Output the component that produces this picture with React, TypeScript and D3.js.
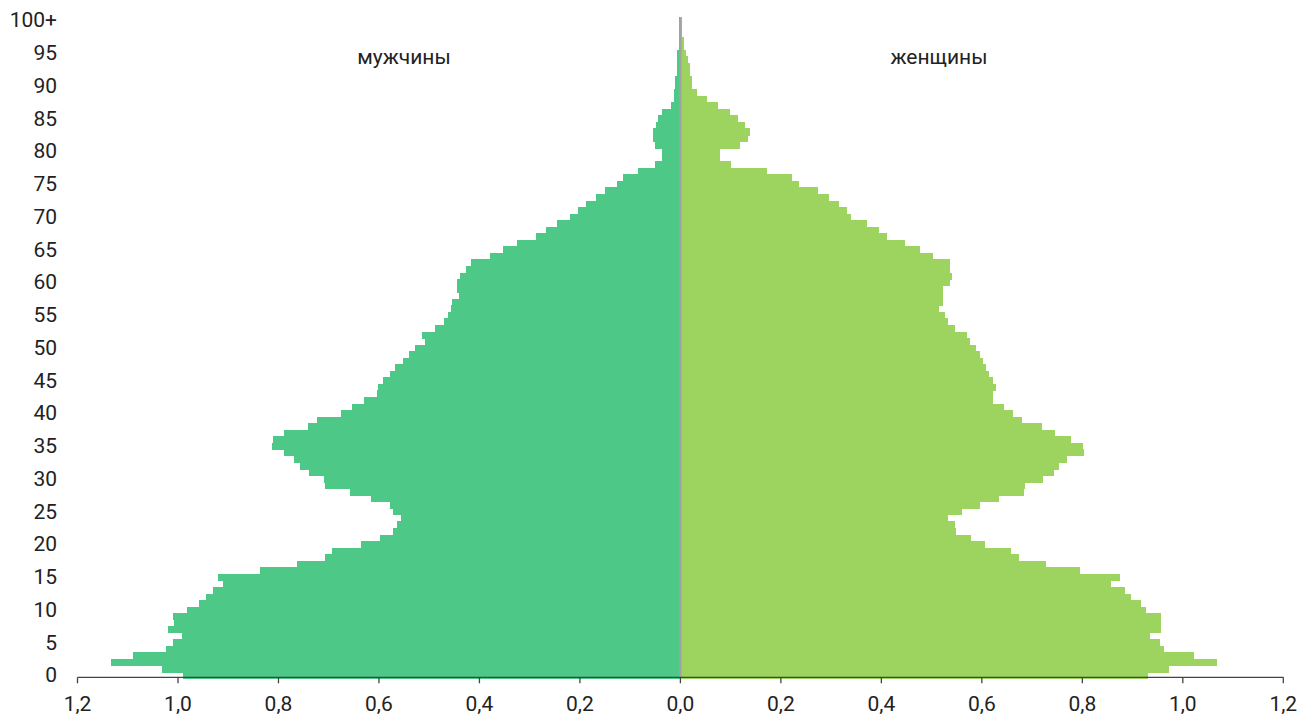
import React from 'react';
import * as d3 from 'd3';

// age groups 0..100 (100 = "100+")
const ages: number[] = d3.range(0, 101);

// values, million people
const male: number[] = [
  0.991, 1.032, 1.133, 1.090, 1.024, 1.010, 0.993, 1.019, 1.007, 1.009,
  0.982, 0.958, 0.944, 0.931, 0.911, 0.920, 0.836, 0.764, 0.708, 0.693,
  0.636, 0.598, 0.572, 0.564, 0.557, 0.573, 0.578, 0.615, 0.657, 0.707,
  0.709, 0.740, 0.758, 0.769, 0.788, 0.812, 0.810, 0.789, 0.741, 0.723,
  0.676, 0.653, 0.630, 0.603, 0.602, 0.592, 0.579, 0.569, 0.553, 0.540,
  0.528, 0.508, 0.514, 0.489, 0.470, 0.463, 0.456, 0.455, 0.441, 0.445,
  0.445, 0.439, 0.426, 0.416, 0.378, 0.353, 0.325, 0.288, 0.268, 0.246,
  0.219, 0.204, 0.188, 0.168, 0.150, 0.126, 0.115, 0.085, 0.051, 0.036,
  0.036, 0.051, 0.054, 0.054, 0.049, 0.044, 0.037, 0.019, 0.013, 0.012,
  0.010, 0.010, 0.006, 0.006, 0.006, 0.006, 0.003, 0.003, 0.002, 0.002,
  0.002,
];

const female: number[] = [
  0.930, 0.973, 1.068, 1.023, 0.963, 0.954, 0.934, 0.957, 0.957, 0.957,
  0.926, 0.916, 0.896, 0.884, 0.857, 0.875, 0.795, 0.727, 0.674, 0.659,
  0.606, 0.578, 0.549, 0.546, 0.533, 0.561, 0.596, 0.635, 0.684, 0.686,
  0.722, 0.743, 0.753, 0.770, 0.803, 0.802, 0.778, 0.745, 0.720, 0.680,
  0.662, 0.644, 0.623, 0.623, 0.628, 0.622, 0.615, 0.609, 0.603, 0.596,
  0.589, 0.576, 0.571, 0.546, 0.532, 0.527, 0.515, 0.523, 0.523, 0.522,
  0.536, 0.540, 0.536, 0.536, 0.503, 0.477, 0.448, 0.411, 0.395, 0.372,
  0.339, 0.331, 0.316, 0.296, 0.273, 0.236, 0.223, 0.172, 0.100, 0.079,
  0.079, 0.119, 0.134, 0.138, 0.129, 0.114, 0.099, 0.074, 0.052, 0.033,
  0.024, 0.024, 0.019, 0.019, 0.016, 0.012, 0.007, 0.007, 0.004, 0.004,
  0.004,
];

const yTickAges: number[] = [0, 5, 10, 15, 20, 25, 30, 35, 40, 45, 50, 55, 60, 65, 70, 75, 80, 85, 90, 95, 100];
const xTicks: number[] = [-1.2, -1, -0.8, -0.6, -0.4, -0.2, 0, 0.2, 0.4, 0.6, 0.8, 1, 1.2];
const seriesNames: string[] = ['мужчины', 'женщины'];

const W = 1300;
const H = 718;
const maleColor = '#4dc886';
const femaleColor = '#9dd45f';
const font = 'Roboto, "Noto Sans", sans-serif';

const App: React.FC = () => {
  const x = d3.scaleLinear().domain([-1.2, 1.2]).range([77.5, 1283.3]);
  const y = d3.scaleBand<number>().domain(ages).range([678.7, 17.1]).padding(0);
  const bh = y.bandwidth();
  const axisY = 677.3;
  const fmt = (v: number) => Math.abs(v).toFixed(1).replace('.', ',');
  const yLabel = (a: number) => (a === 100 ? '100+' : String(a));

  return (
    <svg width={W} height={H} style={{ position: 'absolute', left: 0, top: 0 }} fontFamily={font}>
      <rect width={W} height={H} fill="#fff" />
      <g shapeRendering="crispEdges">
        {ages.map((a, i) => (
          <rect key={'m' + a} x={x(-male[i])} y={y(a)} width={x(0) - x(-male[i])} height={bh + 0.5} fill={maleColor} />
        ))}
        {ages.map((a, i) => (
          <rect key={'f' + a} x={x(0)} y={y(a)} width={x(female[i]) - x(0)} height={bh + 0.5} fill={femaleColor} />
        ))}
      </g>
      <line x1={x(0)} x2={x(0)} y1={17.5} y2={axisY} stroke="#a3a3a3" strokeWidth={2.5} />
      <line x1={x(-1.2)} x2={x(1.2)} y1={axisY} y2={axisY} stroke="#444" strokeWidth={1.3} />
      {xTicks.map((t) => (
        <g key={'xt' + t}>
          <line x1={x(t)} x2={x(t)} y1={axisY} y2={axisY + 6} stroke="#444" strokeWidth={1.3} />
          <text x={x(t)} y={711} textAnchor="middle" fontSize={21} fill="#222">{fmt(t)}</text>
        </g>
      ))}
      {yTickAges.map((a) => (
        <text key={'yt' + a} x={57} y={(y(a) as number) + bh / 2 + 7} textAnchor="end" fontSize={21} fill="#222">
          {yLabel(a)}
        </text>
      ))}
      <text x={404} y={64} textAnchor="middle" fontSize={21} fill="#222">{seriesNames[0]}</text>
      <text x={939} y={64} textAnchor="middle" fontSize={21} fill="#222">{seriesNames[1]}</text>
    </svg>
  );
};

export default App;
